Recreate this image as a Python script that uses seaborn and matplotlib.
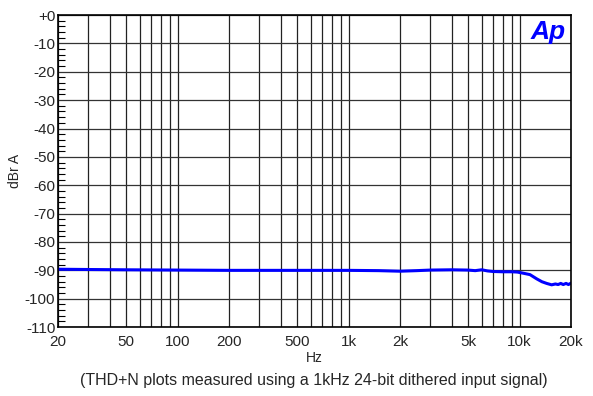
import numpy as np
import pandas as pd
import seaborn as sns
import matplotlib.pyplot as plt
from matplotlib.ticker import FixedLocator, MultipleLocator, NullFormatter

# THD+N vs frequency readings
freq_hz = [20, 30, 50, 100, 200, 500, 1000, 1500, 2000, 2500, 3000, 4000, 5000,
           5500, 6000, 6500, 7000, 8000, 9000, 9700, 10500, 11500, 12600,
           13500, 14400, 15400, 16200, 16800, 17400, 18000, 18700, 19300, 20000]
thdn_dbr = [-89.6, -89.7, -89.8, -89.9, -90.0, -90.0, -90.0, -90.1, -90.3, -90.1,
            -89.9, -89.8, -89.9, -90.1, -89.8, -90.2, -90.4, -90.5, -90.5, -90.6,
            -91.0, -91.5, -93.0, -94.0, -94.6, -95.1, -94.8, -95.0, -94.6, -95.0,
            -94.6, -95.0, -94.5]

x_ticks = [20, 50, 100, 200, 500, 1000, 2000, 5000, 10000, 20000]
x_labels = ['20', '50', '100', '200', '500', '1k', '2k', '5k', '10k', '20k']
y_ticks = list(range(0, -111, -10))
y_labels = ['+0'] + [str(v) for v in y_ticks[1:]]

df = pd.DataFrame({'Hz': freq_hz, 'dBr': thdn_dbr})

sns.set_style('white')
plt.rcParams['font.family'] = ['Liberation Sans', 'DejaVu Sans']

fig, ax = plt.subplots(figsize=(5.93, 3.96), dpi=100)
fig.subplots_adjust(left=0.098, right=0.963, top=0.962, bottom=0.174)

sns.lineplot(data=df, x='Hz', y='dBr', ax=ax, color='#0000ff', linewidth=2.2)

ax.set_xscale('log')
ax.set_xlim(20, 20000)
ax.set_ylim(-110, 0)

# grid on every 1-2-3..9 decade step
minor_lines = [m * 10 ** e for e in range(1, 5) for m in range(1, 10)
               if 20 <= m * 10 ** e <= 20000]
ax.xaxis.set_major_locator(FixedLocator(x_ticks))
ax.xaxis.set_minor_locator(FixedLocator(minor_lines))
ax.xaxis.set_minor_formatter(NullFormatter())
ax.set_xticklabels(x_labels)
ax.set_yticks(y_ticks)
ax.set_yticklabels(y_labels)
ax.yaxis.set_minor_locator(MultipleLocator(2))

ax.grid(True, which='major', axis='y', color='#333333', linewidth=0.9)
ax.grid(True, which='both', axis='x', color='#222222', linewidth=0.9)
ax.tick_params(axis='y', which='major', direction='in', length=0, labelsize=11, pad=2)
ax.tick_params(axis='y', which='minor', direction='in', length=5, width=0.8,
               color='black', left=True)
ax.tick_params(axis='x', which='both', length=0, labelsize=11, pad=6)

for sp in ax.spines.values():
    sp.set_color('black')
    sp.set_linewidth(1.2)

ax.set_xlabel('Hz', fontsize=10, labelpad=1)
ax.set_ylabel('dBr A', fontsize=10, labelpad=2)

ax.text(0.99, 0.985, 'Ap', transform=ax.transAxes, ha='right', va='top',
        color='#0000ff', fontsize=19, fontweight='bold', fontstyle='italic')

fig.text(0.53, 0.04, '(THD+N plots measured using a 1kHz 24-bit dithered input signal)',
         ha='center', va='center', fontsize=11.5)

plt.savefig('out.png', dpi=100)
